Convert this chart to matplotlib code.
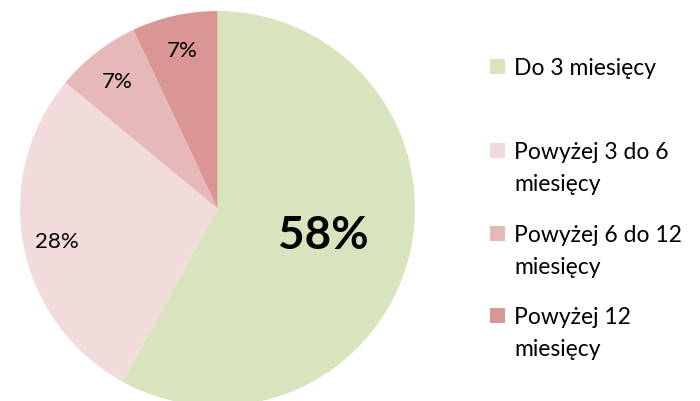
import matplotlib.pyplot as plt
import numpy as np
from matplotlib.patches import Rectangle

# dane
labels = ["Do 3 miesięcy", "Powyżej 3 do 6\nmiesięcy", "Powyżej 6 do 12\nmiesięcy", "Powyżej 12\nmiesięcy"]
values = [58, 28, 7, 7]
colors = ["#D7E4BD", "#F2DCDB", "#E6B9B8", "#D99694"]

plt.rcParams['font.family'] = ['Lato', 'DejaVu Sans']

W, H = 700, 401
fig = plt.figure(figsize=(W / 100, H / 100), dpi=100)

# pie: centre (217.5, 208.5) px from top, radius 197.5 px
cx, cy, R = 217.5, 208.5, 197.5
ax = fig.add_axes([(cx - R) / W, (H - cy - R) / H, 2 * R / W, 2 * R / H])

wedges, texts, autotexts = ax.pie(values, colors=colors, startangle=90, counterclock=False,
                                  autopct='%d%%', pctdistance=0.83,
                                  wedgeprops=dict(edgecolor='none', linewidth=0),
                                  textprops=dict(fontsize=16, color='black'))
ax.set_xlim(-1, 1)
ax.set_ylim(-1, 1)
ax.set_aspect('equal')
ax.axis('off')

for t in autotexts:
    x, y = t.get_position()
    t.set_position((x, y - 0.015))

# big label for the first slice
w0 = wedges[0]
ang = np.deg2rad((w0.theta1 + w0.theta2) / 2)
autotexts[0].set_position((0.555 * np.cos(ang), 0.555 * np.sin(ang)))
autotexts[0].set_fontsize(33)
autotexts[0].set_fontweight('bold')

# legend
cap_tops = [59, 143, 226, 308]
sq = 15
for lab, col, top in zip(labels, colors, cap_tops):
    fig.patches.append(Rectangle((490 / W, (H - top - sq) / H), sq / W, sq / H,
                                 transform=fig.transFigure, facecolor=col, edgecolor='none'))
    for i, line in enumerate(lab.split("\n")):
        base = top + 16 + i * 32
        fig.text(514 / W, (H - base) / H, line, fontsize=16.5, color='black',
                 ha='left', va='baseline')

fig.savefig("out.png", dpi=100)
